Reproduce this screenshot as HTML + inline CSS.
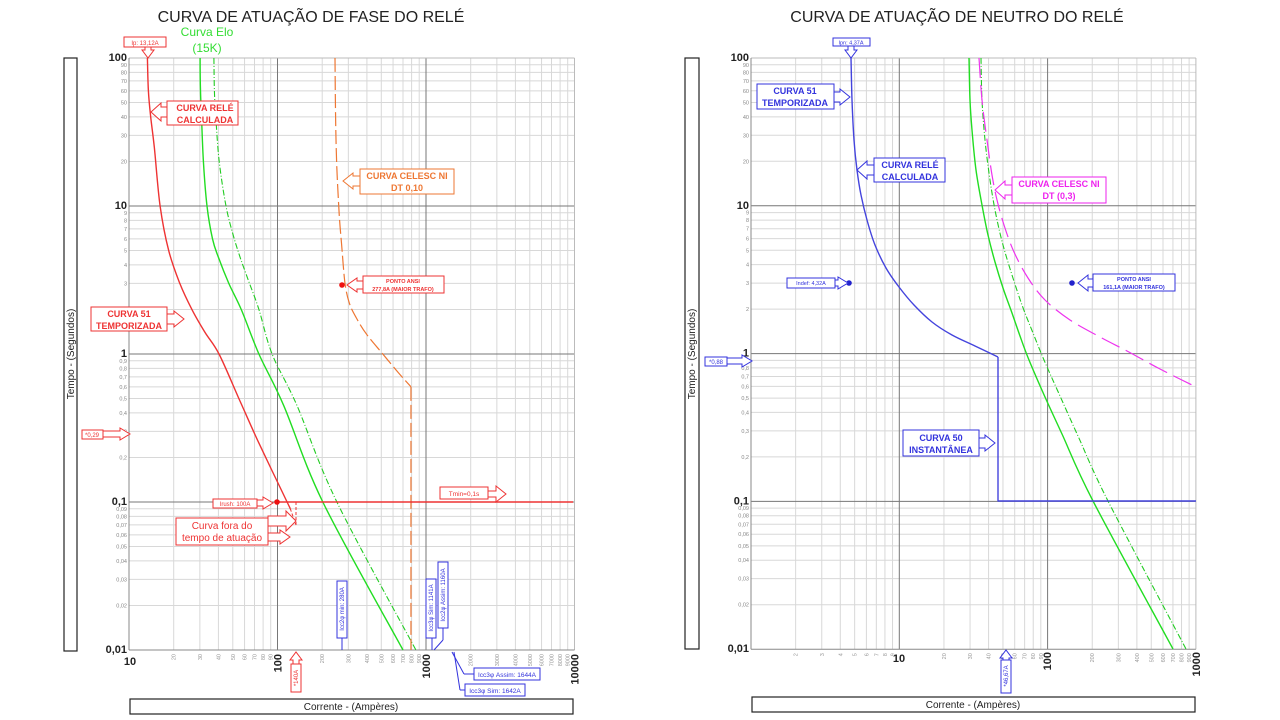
<!DOCTYPE html>
<html><head><meta charset="utf-8"><style>
html,body{margin:0;padding:0;background:#fff;width:1280px;height:720px;overflow:hidden}
svg text{font-family:"Liberation Sans",sans-serif}
</style></head><body>
<svg id="s" width="1280" height="720" xmlns="http://www.w3.org/2000/svg"></svg>
<script>
var s=document.getElementById('s'),out='';
function L(x1,y1,x2,y2,c,w,d){out+='<line x1="'+x1+'" y1="'+y1+'" x2="'+x2+'" y2="'+y2+'" stroke="'+c+'" stroke-width="'+(w||1)+'"'+(d?' stroke-dasharray="'+d+'"':'')+'/>';}
function T(x,y,t,sz,c,anc,extra){out+='<text x="'+x+'" y="'+y+'" font-size="'+sz+'" fill="'+c+'" text-anchor="'+(anc||'start')+'" '+(extra||'')+'>'+t+'</text>';}
function P(pts,c,w,d){out+='<polyline fill="none" stroke="'+c+'" stroke-width="'+w+'" stroke-linejoin="round" points="'+pts.map(function(p){return p[0].toFixed(1)+','+p[1].toFixed(1)}).join(' ')+'"'+(d?' stroke-dasharray="'+d+'"':'')+'/>';}
function PS(p,c,w,d){var str='M'+p[0][0].toFixed(1)+','+p[0][1].toFixed(1);
 for(var i=0;i<p.length-1;i++){var p0=p[i-1]||p[i],p1=p[i],p2=p[i+1],p3=p[i+2]||p2;
  var c1=[p1[0]+(p2[0]-p0[0])/6,p1[1]+(p2[1]-p0[1])/6],c2=[p2[0]-(p3[0]-p1[0])/6,p2[1]-(p3[1]-p1[1])/6];
  str+=' C'+c1[0].toFixed(1)+','+c1[1].toFixed(1)+' '+c2[0].toFixed(1)+','+c2[1].toFixed(1)+' '+p2[0].toFixed(1)+','+p2[1].toFixed(1);}
 out+='<path fill="none" stroke="'+c+'" stroke-width="'+w+'" d="'+str+'"'+(d?' stroke-dasharray="'+d+'"':'')+'/>';}
function R(x,y,w,h,c,sw){out+='<rect x="'+x+'" y="'+y+'" width="'+w+'" height="'+h+'" fill="#fff" stroke="'+c+'" stroke-width="'+(sw||1)+'"/>';}
function dot(x,y,c){out+='<circle cx="'+x+'" cy="'+y+'" r="2.8" fill="'+c+'"/>';}
function arrH(x1,x2,y,c,hs,hh){hs=hs||3;hh=hh||7;var d=x2>x1?1:-1,hl=10*d;var xb=x2-hl;
out+='<polygon fill="#fff" stroke="'+c+'" stroke-width="1" points="'+x1+','+(y-hs)+' '+xb+','+(y-hs)+' '+xb+','+(y-hh)+' '+x2+','+y+' '+xb+','+(y+hh)+' '+xb+','+(y+hs)+' '+x1+','+(y+hs)+'"/>';}
function arrV(y1,y2,x,c){var d=y2>y1?1:-1,yb=y2-8*d;
out+='<polygon fill="#fff" stroke="'+c+'" stroke-width="1" points="'+(x-3)+','+y1+' '+(x-3)+','+yb+' '+(x-6)+','+yb+' '+x+','+y2+' '+(x+6)+','+yb+' '+(x+3)+','+yb+' '+(x+3)+','+y1+'"/>';}

function chart(x0,dec,xdec,ndec,firstLbl,y0,ydec){
 var xr=x0+dec*ndec,yb=y0+ydec*4;
 for(var k=0;k<ndec;k++)for(var m=2;m<=9;m++){var x=x0+dec*(k+Math.log10(m));L(x,y0,x,yb,'#d8d8d8',1);}
 for(var k=0;k<4;k++)for(var m=2;m<=9;m++){var y=y0+ydec*(k+1-Math.log10(m));L(x0,y,xr,y,'#d8d8d8',1);}
 for(var k=1;k<ndec;k++){var x=x0+dec*k;L(x,y0,x,yb,'#777',1);}
 for(var k=1;k<4;k++){var y=y0+ydec*k;L(x0,y,xr,y,'#777',1);}
 L(xr,y0,xr,yb,'#bbb',1);L(x0,y0,xr,y0,'#bbb',1);
 L(x0,y0,x0,yb,'#888',1);L(x0,yb,xr,yb,'#888',1);
 var maj=['100','10','1','0,1','0,01'];
 for(var k=0;k<5;k++)T(x0-2,y0+ydec*k+3,maj[k],11,'#222','end','font-weight="bold"');
 var mins=[['90','80','70','60','50','40','30','20'],['9','8','7','6','5','4','3','2'],['0,9','0,8','0,7','0,6','0,5','0,4','0,3','0,2'],['0,09','0,08','0,07','0,06','0,05','0,04','0,03','0,02']];
 for(var k=0;k<4;k++)for(var m=9;m>=2;m--){var y=y0+ydec*(k+1-Math.log10(m));T(x0-2,y+2,mins[k][9-m],5.5,'#888','end');}
 for(var k=0;k<ndec;k++)for(var m=2;m<=9;m++){var x=x0+dec*(k+Math.log10(m));var v=m*Math.pow(10,k+xdec);T(0,0,String(v),5.5,'#999','end','transform="translate('+(x+2)+','+(yb+4)+') rotate(-90)"');}
 return [xr,yb];
}
T(311,22,'CURVA DE ATUAÇÃO DE FASE DO RELÉ',16,'#222','middle');
T(957,22,'CURVA DE ATUAÇÃO DE NEUTRO DO RELÉ',16,'#222','middle');

// LEFT
var lx0=129,ld=148.5,ly0=58,lyd=148;
chart(lx0,ld,1,3,'10',ly0,lyd);
T(130,665,'10',11,'#222','middle','font-weight="bold"');
[['100',277.5],['1000',426],['10000',574.5]].forEach(function(a){T(0,0,a[0],11,'#222','end','font-weight="bold" transform="translate('+(a[1]+4)+',654) rotate(-90)"');});
function LX(I){return lx0+(Math.log10(I)-1)*ld;}function LY(t){return ly0+(2-Math.log10(t))*lyd;}
function lp(a){return a.map(function(p){return [LX(p[0]),LY(p[1])]});}
PS(lp([[30.1,100],[30.3,60],[30.8,40],[31.7,20],[33.5,10],[36.5,6],[40,4.5],[47,3],[57,2],[75,1],[110,0.45],[202,0.1],[700,0.01]]),'#22dd22',1.4);
PS(lp([[37.3,100],[37.6,60],[38.4,40],[40.5,20],[45,10],[50,6.5],[56,4.5],[64,3.1],[75,2],[92,1],[135,0.45],[251,0.1],[855,0.01]]),'#22cc22',1.1,'6,2,1,2');
PS(lp([[244,100],[246,40],[250,20],[256,12],[262,8],[270,5.5],[285,3],[305,2.2],[340,1.75],[400,1.35],[512,1],[650,0.75],[792,0.6]]),'#ee7733',1.2,'14,4');
L(LX(792),LY(0.6),LX(792),650,'#ee7733',1.2,'14,4');
PS(lp([[13.3,100],[13.5,60],[14,40],[14.8,25],[16.2,10],[18.5,5],[22,3],[26.5,2],[32.5,1.4],[40.4,1],[55,0.5],[75,0.25],[116,0.1],[122,0.09]]),'#ee3333',1.4);
P([[LX(122),LY(0.09)],[296,525]],'#ee3333',1,'3,2');
L(296,502,296,525,'#ee3333',1,'3,2');
L(277,502,573,502,'#ee3333',1.4);
dot(277,502,'#ee1111');dot(342,285,'#ee1111');
var red='#ee3333';
R(124,37,42,10,red);T(145,45,'Ip: 13,12A',6,red,'middle');arrV(47,58,148,red);
T(207,36,'Curva Elo',12,'#33dd33','middle');T(207,52,'(15K)',12,'#33dd33','middle');
arrH(167,151,112,red,5,9);R(167,101,71,24,red);T(205,111,'CURVA RELÉ',9,red,'middle','font-weight="bold"');T(205,123,'CALCULADA',9,red,'middle','font-weight="bold"');
arrH(360,343,181,'#ee7733',5,8);R(360,169,94,25,'#ee7733');T(407,179,'CURVA CELESC NI',9,'#ee7733','middle','font-weight="bold"');T(407,191,'DT 0,10',9,'#ee7733','middle','font-weight="bold"');
arrH(363,347,285,red,4,7);R(363,276,81,17,red);T(403,283,'PONTO ANSI',5.5,red,'middle','font-weight="bold"');T(403,291,'277,8A (MAIOR TRAFO)',5.5,red,'middle','font-weight="bold"');
arrH(166,184,319,red,5,8);R(91,307,76,24,red);T(129,317,'CURVA 51',9,red,'middle','font-weight="bold"');T(129,329,'TEMPORIZADA',9,red,'middle','font-weight="bold"');
arrH(103,130,434,red,3,6);R(82,430,21,9,red);T(92,437,'*0,29',6,red,'middle');
arrH(257,273,503,red,3,6);R(213,499,44,9,red);T(235,506,'Irush: 100A',6,red,'middle');
arrH(488,506,494,red,3,8);R(440,487,48,12,red);T(464,496,'Tmin=0,1s',6.5,red,'middle');
arrH(268,296,521,red,5,10);arrH(268,290,537,red,4,7);R(176,518,92,27,red);T(222,529,'Curva fora do',10,red,'middle');T(222,541,'tempo de atuação',10,red,'middle');
arrV(665,652,296,red);R(291,664,10,28,red);T(0,0,'*140A',6,red,'middle','transform="translate(298,678) rotate(-90)"');
var blu='#3333dd';
L(342,638,342,650,blu);R(337,581,10,57,blu);T(0,0,'Icc2φ min: 280A',6,blu,'middle','transform="translate(344,609) rotate(-90)"');
L(432,638,432,650,blu);L(443,628,443,640,blu);L(443,640,434,650,blu);
R(426,579,10,59,blu);T(0,0,'Icc3φ Sim: 1141A',6,blu,'middle','transform="translate(433,608) rotate(-90)"');
R(438,562,10,66,blu);T(0,0,'Icc2φ Assim: 1160A',6,blu,'middle','transform="translate(445,595) rotate(-90)"');
L(452,652,464,674,blu);L(464,674,474,674,blu);R(474,668,66,12,blu);T(507,677,'Icc3φ Assim: 1644A',6.5,blu,'middle');
L(454,652,460,690,blu);L(460,690,465,690,blu);R(465,684,60,12,blu);T(495,693,'Icc3φ Sim: 1642A',6.5,blu,'middle');
R(64,58,13,593,'#222',1.2);T(0,0,'Tempo - (Segundos)',10,'#222','middle','transform="translate(74,354) rotate(-90)"');
R(130,699,443,15,'#222',1.2);T(351,710,'Corrente - (Ampères)',10,'#222','middle');

// RIGHT
var rx0=751,rd=148.3,ry0=58,ryd=147.8;
chart(rx0,rd,0,3,'1',ry0,ryd);
T(899,662,'10',11,'#222','middle','font-weight="bold"');
[['100',1047],['1000',1196]].forEach(function(a){T(0,0,a[0],11,'#222','end','font-weight="bold" transform="translate('+(a[1]+4)+',652) rotate(-90)"');});
PS([[969,58],[970,100],[972,130],[976,170],[982,205],[988,235],[995,262],[1003,288],[1012,313],[1020,336],[1029,360],[1045,397],[1062,434],[1093,501],[1173,649]],'#22dd22',1.4);
PS([[981,58],[982,100],[985,140],[990,180],[996,215],[1003,245],[1012,275],[1022,305],[1033,333],[1044,360],[1060,396],[1078,436],[1108,501],[1186,649]],'#22cc22',1.1,'6,2,1,2');
PS([[979,58],[982,100],[987,140],[992,175],[997,200],[1004,225],[1014,252],[1028,278],[1045,300],[1070,320],[1100,337],[1127,351],[1160,369],[1196,387]],'#ee33ee',1.2,'20,7');
PS([[851,58],[852,100],[854,140],[857,170],[861,195],[867,220],[875,245],[886,268],[899,287],[914,305],[932,322],[952,335],[975,346],[998,357]],'#4444dd',1.4);
P([[998,357],[998,501],[1196,501]],'#4444dd',1.4);
dot(849,283,'#2222cc');dot(1072,283,'#2222cc');
R(833,38,37,8,blu);T(851,44.5,'Ipn: 4,37A',5.5,blu,'middle');arrV(46,58,851,blu);
arrH(834,850,97,blu,5,8);R(757,84,77,25,blu);T(795,94,'CURVA 51',9,blu,'middle','font-weight="bold"');T(795,106,'TEMPORIZADA',9,blu,'middle','font-weight="bold"');
arrH(874,857,170,blu,5,9);R(874,158,71,24,blu);T(910,168,'CURVA RELÉ',9,blu,'middle','font-weight="bold"');T(910,180,'CALCULADA',9,blu,'middle','font-weight="bold"');
var mag='#ee22ee';
arrH(1012,995,190,mag,5,9);R(1012,177,94,26,mag);T(1059,187,'CURVA CELESC NI',9,mag,'middle','font-weight="bold"');T(1059,199,'DT (0,3)',9,mag,'middle','font-weight="bold"');
arrH(835,848,283,blu,3,6);R(787,278,48,10,blu);T(811,285,'Indef: 4,32A',5.5,blu,'middle');
arrH(1093,1078,283,blu,4,8);R(1093,274,82,17,blu);T(1134,281,'PONTO ANSI',5.5,blu,'middle','font-weight="bold"');T(1134,289,'161,1A (MAIOR TRAFO)',5.5,blu,'middle','font-weight="bold"');
arrH(727,752,361,blu,3,6);R(705,357,22,9,blu);T(716,364,'*0,88',6,blu,'middle');
arrH(979,995,443,blu,5,8);R(903,430,76,26,blu);T(941,441,'CURVA 50',9,blu,'middle','font-weight="bold"');T(941,453,'INSTANTÂNEA',9,blu,'middle','font-weight="bold"');
arrV(662,650,1006,blu);R(1001,660,10,33,blu);T(0,0,'*46,67A',6,blu,'middle','transform="translate(1008,676) rotate(-90)"');
R(685,58,14,591,'#222',1.2);T(0,0,'Tempo - (Segundos)',10,'#222','middle','transform="translate(695,354) rotate(-90)"');
R(752,697,443,15,'#222',1.2);T(973,708,'Corrente - (Ampères)',10,'#222','middle');
s.innerHTML=out;
</script>
</body></html>
